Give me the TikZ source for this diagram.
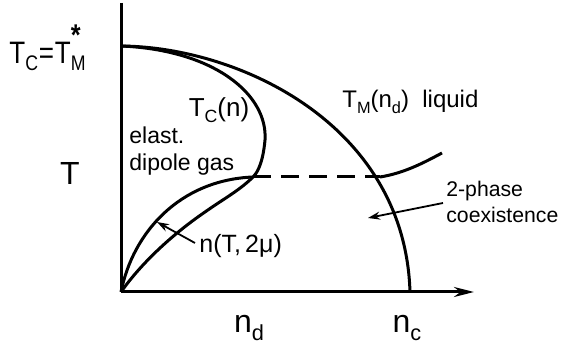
\documentclass[tikz,border=0pt]{standalone}
\usepackage{fontspec}
\setmainfont{Liberation Sans}
\usetikzlibrary{arrows.meta}
\newcommand{\lowsub}[1]{\raisebox{-0.45ex}{\scalebox{0.68}{#1}}}
\begin{document}
\begin{tikzpicture}[x=0.5pt,y=-0.5pt,
  curve/.style={line width=1.5pt},
  axis/.style={line width=1.5pt},
  pointer/.style={line width=0.9pt,-{Stealth[length=6pt,width=4pt]}},
  lab/.style={inner sep=0pt,font=\fontsize{11.5}{13.5}\selectfont},
  biglab/.style={inner sep=0pt,font=\fontsize{16}{18}\selectfont}]
\useasboundingbox (0,0) rectangle (564,347);
% axes
\coordinate (O) at (121,292);
\coordinate (ytop) at (121,3);
\coordinate (xend) at (474,292);
\draw[axis] (ytop) -- (O);
\draw[axis,-{Stealth[length=10pt,width=5pt]}] (O) -- (xend);
% points
\coordinate (top) at (121,46);
\coordinate (nc) at (410,292);
\coordinate (cross) at (253,177);
\coordinate (dashR) at (380,177);
\coordinate (rend) at (442,153);
% melting curve T_M(n_d)
\draw[curve] (top) .. controls (240,47) and (405,125) .. (nc);
% T_C(n)
\draw[curve] (top) .. controls (215,50) and (268,95) .. (265,140)
  .. controls (263,162) and (258,172) .. (cross)
  .. controls (240,190) and (225,198) .. (205,212)
  .. controls (170,236) and (140,265) .. (O);
% n(T,2mu)
\draw[curve] (O) .. controls (133,232) and (180,180) .. (cross);
\draw[curve,dashed,dash pattern=on 9pt off 5pt] (cross) -- (dashR);
\draw[curve] (dashR) .. controls (405,173) and (425,162) .. (rend);
% labels
\node[biglab,anchor=west,font=\fontsize{15.5}{17}\selectfont] (tc) at (9,48) {\scalebox{0.84}[1]{T\lowsub{C}\kern0.5pt=\kern0.5pt T\makebox[0pt][l]{\raisebox{1.05ex}{\fontsize{15}{15}\selectfont\bfseries *}}\lowsub{M}}};
\node[biglab] (T) at (70,173) {T};
\node[biglab] (nd) at (249,328) {n\lowsub{d}};
\node[biglab] (ncl) at (407,328) {n\lowsub{c}};
\node[lab,font=\fontsize{13}{15}\selectfont] (tcn) at (219,110) {T\lowsub{C}(n)};
\node[lab,align=left,anchor=west] (gas) at (129,151) {elast.\\dipole gas};
\node[lab,font=\fontsize{12}{14}\selectfont,anchor=west] (tm) at (342,102) {T\lowsub{M}(n\lowsub{d})\ \ liquid};
\node[lab,font=\fontsize{12.5}{14}\selectfont,anchor=west] (ntm) at (199,246) {n(T,\,2μ)};
\node[lab,font=\fontsize{10.6}{12.8}\selectfont,align=left,anchor=west] (coex) at (446,202) {2-phase\\coexistence};
% pointers
\coordinate (a1) at (157,222);
\coordinate (a2) at (368,218);
\draw[pointer] (ntm.west) ++(-4,-3) -- (a1);
\draw[pointer] (coex.west) ++(-3,1) -- (a2);
\end{tikzpicture}
\end{document}
